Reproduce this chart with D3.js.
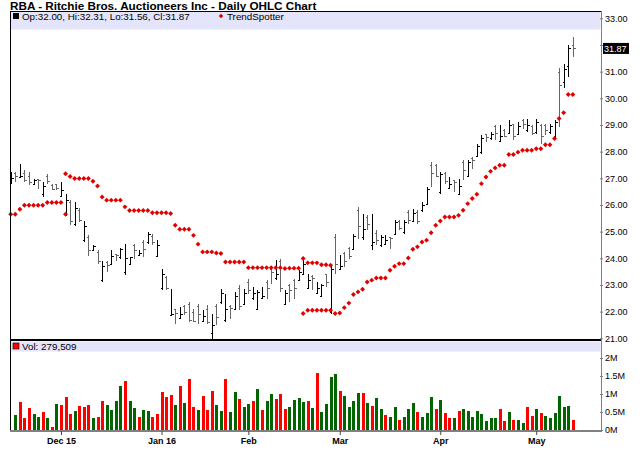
<!DOCTYPE html>
<html>
<head>
<meta charset="utf-8">
<script src="https://cdn.jsdelivr.net/npm/d3@7"></script>
<style>
  body { margin: 0; background: #fff; }
  text { font-family: "Liberation Sans", Arial, sans-serif; }
</style>
</head>
<body>
<div id="chart"></div>
<script>
// month ticks: bar index of first trading day of each month
const tickIndex = [11, 33, 52, 72, 94, 115];
const tickLabels = ["Dec 15", "Jan 16", "Feb", "Mar", "Apr", "May"];

const priceTicks = [21, 22, 23, 24, 25, 26, 27, 28, 29, 30, 31, 32, 33];
const volTicks = [0, 500000, 1000000, 1500000, 2000000];
const volTickLabels = ["0M", "0.5M", "1M", "1.5M", "2M"];

// daily OHLC, 13 Nov 2015 .. 12 May 2016
const opens = [
  26.85, 27.20, 27.06, 27.20, 27.10, 26.78, 26.97, 26.40, 27.10, 26.75,
  26.78, 26.35, 25.70, 26.10, 25.30, 25.80, 24.70, 24.80, 24.32, 24.25,
  23.20, 23.85, 23.80, 24.15, 24.05, 23.50, 23.80, 24.50, 24.12, 24.60,
  24.60, 24.85, 24.10, 22.90, 23.30, 21.88, 22.10, 21.78, 22.20, 22.30,
  22.00, 22.20, 21.65, 22.10, 21.20, 22.20, 22.35, 21.70, 22.20, 22.10,
  22.90, 22.30, 23.10, 22.50, 22.10, 22.52, 23.10, 23.60, 23.25, 23.90,
  22.30, 23.00, 23.20, 23.20, 23.40, 22.90, 23.35, 22.70, 22.60, 23.40,
  22.00, 24.80, 23.60, 24.20, 24.40, 24.35, 25.80, 24.80, 25.55, 24.50,
  24.95, 24.50, 24.52, 24.79, 24.90, 25.40, 25.00, 25.75, 25.40, 25.75,
  25.80, 26.05, 27.50, 27.50, 26.50, 27.20, 26.65, 26.92, 26.40, 27.60,
  27.10, 27.78, 27.85, 28.00, 28.65, 28.50, 28.95, 28.40, 28.80, 28.70,
  29.02, 28.65, 29.20, 28.80, 28.95, 28.75, 29.00, 29.00, 28.75, 28.60,
  31.00, 30.60, 31.20, 32.00
];
const highs = [
  27.24, 27.24, 27.55, 27.30, 27.24, 26.99, 26.99, 26.86, 27.17, 26.80,
  26.80, 26.86, 26.43, 26.18, 26.10, 25.90, 25.40, 24.86, 24.50, 24.30,
  23.90, 23.90, 24.30, 24.17, 24.40, 24.55, 24.05, 24.55, 24.30, 24.67,
  24.99, 24.90, 24.70, 23.61, 23.33, 22.86, 22.11, 22.18, 22.24, 22.36,
  22.11, 22.30, 22.05, 22.24, 21.93, 22.30, 22.86, 22.68, 22.24, 22.74,
  22.99, 22.86, 23.24, 22.93, 22.80, 22.93, 23.18, 23.68, 23.93, 23.99,
  22.80, 23.05, 23.24, 23.55, 23.99, 23.43, 23.36, 23.10, 23.05, 23.43,
  23.74, 24.93, 24.11, 24.24, 24.43, 24.93, 25.93, 25.68, 25.61, 25.68,
  25.05, 24.86, 24.86, 24.80, 25.43, 25.43, 25.43, 25.80, 25.86, 25.80,
  26.11, 26.68, 27.61, 27.55, 27.24, 27.24, 27.05, 26.93, 26.99, 27.68,
  27.68, 27.80, 28.30, 28.61, 28.68, 28.74, 28.99, 28.99, 28.86, 29.18,
  29.05, 29.11, 29.24, 29.24, 28.99, 29.24, 29.05, 29.05, 29.05, 29.18,
  31.14, 31.30, 32.01, 32.31
];
const lows = [
  26.80, 26.86, 27.05, 26.86, 26.74, 26.74, 26.61, 26.30, 26.80, 26.55,
  26.55, 26.30, 25.60, 25.24, 25.20, 25.36, 24.60, 24.10, 24.30, 23.80,
  23.10, 23.50, 23.74, 23.90, 23.99, 23.36, 23.74, 23.99, 24.10, 24.05,
  24.55, 24.49, 24.05, 22.80, 22.80, 21.86, 21.55, 21.74, 21.86, 21.61,
  21.61, 21.55, 21.61, 21.55, 20.93, 21.49, 22.30, 21.61, 21.74, 22.05,
  22.05, 22.24, 22.68, 22.43, 22.05, 22.49, 22.49, 23.05, 23.18, 22.74,
  22.24, 22.36, 22.49, 23.18, 23.36, 22.86, 22.80, 22.68, 22.55, 22.93,
  21.93, 23.43, 23.55, 23.68, 23.99, 24.30, 24.74, 24.68, 25.05, 24.30,
  24.49, 24.43, 24.49, 24.36, 24.86, 25.05, 24.93, 25.30, 25.36, 25.30,
  25.74, 25.99, 26.68, 27.05, 26.40, 26.80, 26.62, 26.49, 26.37, 26.93,
  27.05, 27.36, 27.80, 27.93, 28.36, 28.43, 28.43, 28.36, 28.55, 28.68,
  28.43, 28.61, 28.86, 28.74, 28.61, 28.68, 28.30, 28.61, 28.68, 28.49,
  28.93, 30.37, 30.80, 31.56
];
const closes = [
  27.00, 27.10, 27.08, 26.95, 26.85, 26.92, 26.94, 26.70, 26.90, 26.60,
  26.65, 26.55, 26.20, 25.40, 25.90, 25.45, 25.20, 24.30, 24.45, 23.90,
  23.70, 23.75, 24.10, 24.12, 24.35, 24.00, 24.03, 24.30, 24.20, 24.35,
  24.90, 24.60, 24.50, 23.40, 22.90, 21.90, 21.95, 21.90, 22.00, 21.70,
  21.65, 21.90, 21.85, 21.60, 21.50, 21.80, 22.70, 22.10, 22.15, 22.60,
  22.20, 22.70, 22.80, 22.70, 22.75, 22.60, 22.90, 23.50, 23.40, 22.90,
  22.70, 22.80, 22.90, 23.50, 23.80, 23.20, 23.25, 22.90, 23.00, 23.10,
  23.60, 23.80, 23.70, 23.90, 24.10, 24.85, 25.20, 25.10, 25.30, 24.60,
  24.70, 24.80, 24.70, 24.75, 25.35, 25.15, 25.35, 25.45, 25.70, 25.40,
  26.00, 26.60, 27.20, 27.10, 27.15, 26.90, 26.80, 26.85, 26.70, 27.30,
  27.60, 27.70, 28.20, 28.50, 28.55, 28.65, 28.70, 28.60, 28.58, 29.00,
  28.60, 28.95, 29.05, 29.00, 28.70, 29.10, 28.60, 28.80, 28.95, 29.10,
  30.50, 31.10, 31.90, 31.87
];
const volumes = [
  null, 417000, 787000, 324000, 602000, 444000, 370000, 500000, 324000, 93000,
  722000, 694000, 926000, 444000, 528000, 667000, 648000, 694000, 324000, 370000,
  806000, 694000, 556000, 806000, 1231000, 1361000, 806000, 602000, 370000, 546000,
  528000, 370000, 444000, 1056000, 926000, 972000, 694000, 1231000, 759000, 1407000,
  648000, 556000, 954000, 556000, 1083000, 694000, 528000, 1407000, 500000, 1056000,
  852000, 630000, 722000, 806000, 1139000, 556000, 806000, 1000000, 852000, 1000000,
  574000, 630000, 824000, 880000, 778000, 806000, 602000, 1593000, 500000, 722000,
  1463000, 1565000, 1083000, 954000, 630000, 806000, 1037000, 1037000, 759000, 676000,
  880000, 574000, 417000, 352000, 648000, 278000, 352000, 574000, 759000, 500000,
  370000, 481000, 926000, 574000, 833000, 472000, 324000, 343000, 528000, 574000,
  528000, 370000, 528000, 444000, 250000, 324000, 343000, 574000, 250000, 500000,
  278000, 278000, 194000, 648000, 398000, 574000, 472000, 398000, 324000, 472000,
  954000, 630000, 667000, 279509
];
// TrendSpotter stops: below price (long) and above price (short)
const trendLow = [
  25.65, 25.65, 25.84, 25.99, 25.99, 25.99, 25.99, 25.99, 26.09, 26.09,
  26.09, 26.09, 25.65, null, null, null, null, null, null, null,
  null, null, null, null, null, null, null, null, null, null,
  null, null, null, null, null, null, null, null, null, null,
  null, null, null, null, null, null, null, null, null, null,
  null, null, null, null, null, null, null, null, null, null,
  null, null, null, null, 21.93, 22.05, 22.05, 22.05, 22.05, 22.05,
  22.05, 21.93, 21.95, 22.15, 22.32, 22.64, 22.74, 22.84, 23.11, 23.18,
  23.26, 23.26, 23.26, 23.55, 23.70, 23.80, 23.80, 24.01, 24.34, 24.43,
  24.61, 24.68, 24.96, 25.24, 25.40, 25.55, 25.55, 25.55, 25.61, 25.80,
  26.05, 26.24, 26.40, 26.80, 27.05, 27.26, 27.39, 27.49, 27.49, 27.89,
  27.89, 27.98, 28.05, 28.05, 28.05, 28.11, 28.11, 28.26, 28.26, 28.49,
  29.24, 29.46, 30.14, 30.14
];
const trendHigh = [
  null, null, null, null, null, null, null, null, null, null,
  null, null, 27.17, 27.07, 26.99, 26.99, 26.99, 26.99, 26.89, 26.71,
  26.30, 26.18, 26.18, 26.18, 26.18, 25.93, 25.79, 25.79, 25.79, 25.79,
  25.79, 25.71, 25.71, 25.71, 25.71, 25.68, 25.24, 25.09, 25.09, 25.09,
  24.86, 24.53, 24.24, 24.24, 24.24, 24.20, 24.18, 23.86, 23.86, 23.86,
  23.86, 23.86, 23.65, 23.65, 23.65, 23.65, 23.65, 23.65, 23.65, 23.65,
  23.62, 23.63, 23.63, 23.63, 23.99, 23.83, 23.83, 23.83, 23.76, 23.76,
  23.74, null, null, null, null, null, null, null, null, null,
  null, null, null, null, null, null, null, null, null, null,
  null, null, null, null, null, null, null, null, null, null,
  null, null, null, null, null, null, null, null, null, null,
  null, null, null, null, null, null, null, null, null, null,
  null, null, null, null
];

const width = 640;
const height = 468;
const left = 10, right = 601;
const priceTop = 11, priceBottom = 339;
const volTop = 341, volBase = 430;

const svg = d3.select("#chart").append("svg")
  .attr("width", width)
  .attr("height", height)
  .style("background", "#fff");

const idx = d3.range(closes.length);

const x = d3.scaleLinear().domain([0, closes.length - 1]).range([10.7, 572.8]);
const y = d3.scaleLinear().domain([21, 33]).range([338.3, 18.3]);
const yv = d3.scaleLinear().domain([0, 2000000]).range([volBase, 358]);

const px = i => Math.round(x(i)) + 0.5;

// title
svg.append("text")
  .attr("x", 10).attr("y", 9.5)
  .attr("font-size", "11.7px").attr("font-weight", "bold")
  .text("RBA - Ritchie Bros. Auctioneers Inc - Daily OHLC Chart");

// legend bands
svg.append("rect").attr("x", left + 0.5).attr("y", priceTop + 0.5)
  .attr("width", right - left - 1).attr("height", 18).attr("fill", "#e4e4fa");
svg.append("rect").attr("x", left + 0.5).attr("y", volTop + 0.5)
  .attr("width", right - left - 1).attr("height", 10).attr("fill", "#e4e4fa");

// price panel legend
svg.append("rect").attr("x", 13).attr("y", 13).attr("width", 6).attr("height", 6).attr("fill", "#000");
const last = closes.length - 1;
svg.append("text").attr("x", 22).attr("y", 19.5).attr("font-size", "9.8px")
  .text(`Op:${opens[last].toFixed(2)}, Hi:${highs[last].toFixed(2)}, Lo:${lows[last].toFixed(2)}, Cl:${closes[last].toFixed(2)}`);
svg.append("path")
  .attr("d", d3.symbol(d3.symbolSquare, 10)())
  .attr("transform", "translate(221,16) rotate(45)")
  .attr("fill", "#e00000");
svg.append("text").attr("x", 227).attr("y", 19.5).attr("font-size", "9.8px").text("TrendSpotter");

// volume legend
svg.append("rect").attr("x", 13).attr("y", 343).attr("width", 6).attr("height", 6)
  .attr("fill", "#ff0000").attr("stroke", "#000").attr("stroke-width", 0.6);
svg.append("text").attr("x", 22).attr("y", 350).attr("font-size", "9.8px")
  .text("Vol: " + d3.format(",")(volumes[last]));

// OHLC bars
const barColor = i => closes[i] >= opens[i] ? "#000" : "#666";
const bars = svg.append("g").attr("shape-rendering", "crispEdges");
bars.selectAll("line.hl").data(idx).join("line")
  .attr("class", "hl")
  .attr("x1", px).attr("x2", px)
  .attr("y1", i => y(highs[i])).attr("y2", i => y(lows[i]))
  .attr("stroke", barColor);
bars.selectAll("line.op").data(idx).join("line")
  .attr("class", "op")
  .attr("x1", i => px(i) - 2).attr("x2", px)
  .attr("y1", i => Math.round(y(opens[i])) + 0.5).attr("y2", i => Math.round(y(opens[i])) + 0.5)
  .attr("stroke", barColor);
bars.selectAll("line.cl").data(idx).join("line")
  .attr("class", "cl")
  .attr("x1", px).attr("x2", i => px(i) + 2)
  .attr("y1", i => Math.round(y(closes[i])) + 0.5).attr("y2", i => Math.round(y(closes[i])) + 0.5)
  .attr("stroke", barColor);

// TrendSpotter dots
const dot = d3.symbol(d3.symbolSquare, 12)();
const dots = svg.append("g").attr("fill", "#e00000");
[trendLow, trendHigh].forEach(series => {
  dots.selectAll(null).data(idx.filter(i => series[i] != null)).join("path")
    .attr("d", dot)
    .attr("transform", i => `translate(${x(i)},${y(series[i])}) rotate(45)`);
});

// volume bars
const volIdx = idx.filter(i => volumes[i] != null);
svg.append("g").attr("shape-rendering", "crispEdges")
  .selectAll("rect").data(volIdx).join("rect")
  .attr("x", i => Math.round(x(i)) - 1)
  .attr("width", 3)
  .attr("y", i => yv(volumes[i]))
  .attr("height", i => volBase - yv(volumes[i]))
  .attr("fill", i => closes[i] >= closes[i - 1] ? "#006400" : "#ff0000");

// frame
const frame = svg.append("g").attr("shape-rendering", "crispEdges");
frame.append("line").attr("x1", left).attr("x2", right).attr("y1", priceTop + 0.5).attr("y2", priceTop + 0.5).attr("stroke", "#000");
frame.append("line").attr("x1", left + 0.5).attr("x2", left + 0.5).attr("y1", priceTop).attr("y2", volBase + 1).attr("stroke", "#000");
frame.append("line").attr("x1", left).attr("x2", right).attr("y1", priceBottom + 0.5).attr("y2", priceBottom + 0.5).attr("stroke", "#000").attr("stroke-width", 2);
frame.append("line").attr("x1", left).attr("x2", right + 1).attr("y1", volBase + 1).attr("y2", volBase + 1).attr("stroke", "#808080").attr("stroke-width", 2);
frame.append("line").attr("x1", right + 0.5).attr("x2", right + 0.5).attr("y1", priceTop).attr("y2", volBase + 1).attr("stroke", "#808080");

// right price axis (hide the label under the close marker)
const closeY = y(closes[last]);
const priceAxis = d3.axisRight(y)
  .tickValues(priceTicks)
  .tickFormat(d3.format(".2f"))
  .tickSize(3)
  .tickPadding(2);
const gPrice = svg.append("g")
  .attr("transform", `translate(${right - 1},0)`)
  .call(priceAxis);
gPrice.select(".domain").remove();
gPrice.selectAll("text").attr("font-size", "9px").attr("fill", "#000").attr("font-family", "Liberation Sans, Arial, sans-serif")
  .filter(d => Math.abs(y(d) - closeY) < 10).remove();
gPrice.selectAll("line").attr("stroke", "#808080");

// close marker
svg.append("rect").attr("x", 603).attr("y", closeY - 5.5).attr("width", 26).attr("height", 11).attr("fill", "#000");
svg.append("text").attr("x", 604).attr("y", closeY + 3.3).attr("font-size", "9px").attr("fill", "#fff")
  .text(closes[last].toFixed(2));

// right volume axis
const volAxis = d3.axisRight(yv)
  .tickValues(volTicks)
  .tickFormat((d, i) => volTickLabels[i])
  .tickSize(3)
  .tickPadding(2);
const gVol = svg.append("g")
  .attr("transform", `translate(${right - 1},0)`)
  .call(volAxis);
gVol.select(".domain").remove();
gVol.selectAll("text").attr("font-size", "9px").attr("fill", "#000").attr("font-family", "Liberation Sans, Arial, sans-serif");
gVol.selectAll("line").attr("stroke", "#808080");

// bottom date axis
const dateAxis = d3.axisBottom(x)
  .tickValues(tickIndex)
  .tickFormat((d, i) => tickLabels[i])
  .tickSize(4)
  .tickPadding(3);
const gDate = svg.append("g")
  .attr("transform", `translate(0,${volBase + 1})`)
  .call(dateAxis);
gDate.select(".domain").remove();
gDate.selectAll("text").attr("font-size", "9px").attr("font-weight", "bold").attr("fill", "#000")
  .attr("font-family", "Liberation Sans, Arial, sans-serif");
gDate.selectAll("line").attr("stroke", "#444");
</script>
</body>
</html>
